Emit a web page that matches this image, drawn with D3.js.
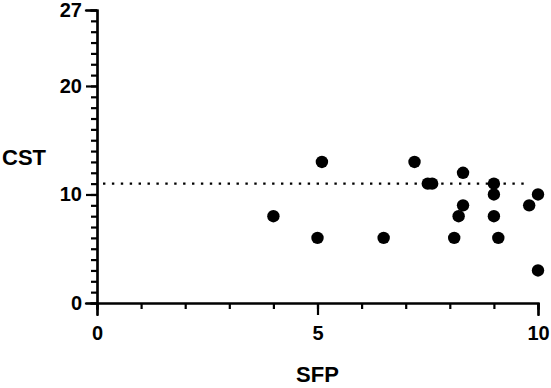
<!DOCTYPE html>
<html>
<head>
<meta charset="utf-8">
<script src="https://cdn.jsdelivr.net/npm/d3@7"></script>
<style>
    body { margin: 0; background: #fff; }
</style>
</head>
<body>
<div id="c1"></div>
<script>
// data
const sfp = [4, 5.1, 5, 6.5, 7.2, 7.5, 7.6, 8.3, 8.3, 8.2, 8.1, 9, 9, 9, 9.1, 10, 9.8, 10];
const cst = [8, 13, 6, 6, 13, 11, 11, 12, 9, 8, 6, 11, 10, 8, 6, 10, 9, 3];
const refLineX = [0, 9.8];
const refLineY = [11, 11];
const xTickLabels = [0, 5, 10];
const yTickLabels = [0, 10, 20, 27];

function c1() {
    const overall_width = 551
    const overall_height = 388
    const margin = {l: 97, r: 13, t: 10, b: 85}
    const width = overall_width - margin.l - margin.r
    const height = overall_height - margin.t - margin.b
    const font = "'Liberation Sans', Arial, sans-serif"

    let outerSvg = d3.select("#c1")
        .append("svg")
        .attr("width", overall_width)
        .attr("height", overall_height);
    outerSvg.append("rect")
        .attr("width", "100%")
        .attr("height", "100%")
        .attr("fill", "#ffffff");
    let svg = outerSvg.append("g")
        .attr("transform", `translate(${margin.l}, ${margin.t})`);

    let scaleX = d3.scaleLinear().domain([0, 10]).range([0, width]);
    let scaleY = d3.scaleLinear().domain([0, 27]).range([height, 0]);

    //minor ticks every unit, major ones longer with labels
    let minorX = d3.axisBottom(scaleX).tickValues(d3.range(0, 11)).tickSize(6).tickFormat("");
    let majorX = d3.axisBottom(scaleX).tickValues(xTickLabels).tickSize(12).tickPadding(11)
        .tickFormat(d3.format("d"));
    let minorY = d3.axisLeft(scaleY).tickValues(d3.range(0, 28)).tickSize(6).tickFormat("");
    let majorY = d3.axisLeft(scaleY).tickValues(yTickLabels).tickSize(11).tickPadding(4)
        .tickFormat(d3.format("d"));

    function styleAxis(g) {
        g.selectAll("path, line").attr("stroke", "#000").attr("stroke-width", 2.2);
        g.select(".domain").attr("stroke-linecap", "square");
        g.selectAll("text")
            .attr("fill", "#000")
            .style("font-family", font)
            .style("font-size", "20px")
            .style("font-weight", "bold");
    }

    svg.append("g").attr("transform", `translate(0,${height})`).call(minorX).call(styleAxis);
    svg.append("g").attr("transform", `translate(0,${height})`).call(majorX).call(styleAxis);
    svg.append("g").call(minorY).call(styleAxis);
    svg.append("g").call(majorY).call(styleAxis);

    // dotted reference line
    let line = d3.line()
        .x(function(d) {return scaleX(d[0])})
        .y(function(d) {return scaleY(d[1])});
    svg.append("path")
        .datum(d3.zip(refLineX, refLineY))
        .attr("d", line)
        .attr("fill", "none")
        .attr("stroke", "#000")
        .attr("stroke-width", 2.4)
        .attr("stroke-dasharray", "2.4,6.5")
        .attr("stroke-dashoffset", -6);

    svg.selectAll("circle")
        .data(d3.zip(sfp, cst))
        .enter()
        .append("circle")
        .attr("cx", function(d) {return scaleX(d[0])})
        .attr("cy", function(d) {return scaleY(d[1])})
        .attr("r", 6.2)
        .attr("fill", "#000");

    // axis titles
    outerSvg.append("text")
        .attr("x", margin.l + width / 2)
        .attr("y", 382)
        .attr("text-anchor", "middle")
        .style("font-family", font)
        .style("font-size", "22px")
        .style("font-weight", "bold")
        .text("SFP");
    outerSvg.append("text")
        .attr("x", 2)
        .attr("y", 165)
        .style("font-family", font)
        .style("font-size", "22px")
        .style("font-weight", "bold")
        .text("CST");
}

c1();
</script>
</body>
</html>
